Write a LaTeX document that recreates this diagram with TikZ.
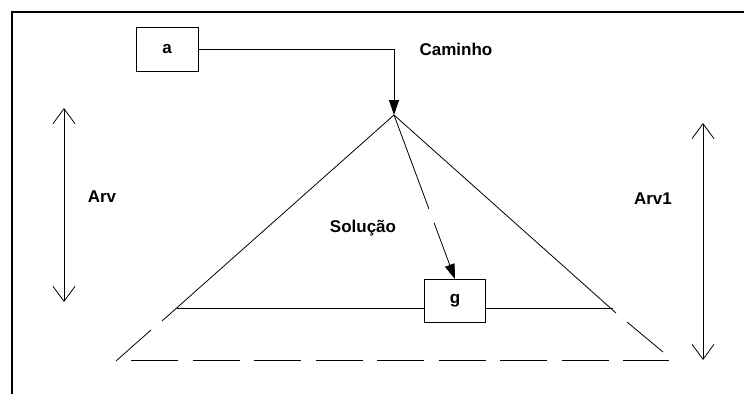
\documentclass[tikz,border=0pt]{standalone}
\usepackage{fontspec}
\setmainfont{Liberation Sans}
\usetikzlibrary{arrows.meta,positioning,calc}
\tikzset{box/.style={draw,fill=white,minimum width=62pt,minimum height=44pt,inner sep=0pt,
  font=\fontsize{17}{20}\selectfont\bfseries},
  lbl/.style={font=\fontsize{17}{20}\selectfont\bfseries},
  solid arrow/.style={-{Triangle[length=15pt,width=10pt]},line width=0.8pt},
  span/.style={{Straight Barb[length=15pt,width=22pt]}-{Straight Barb[length=15pt,width=22pt]},line width=0.8pt},
  longdash/.style={dash pattern=on 47pt off 14.5pt,line width=0.8pt}}

\begin{document}
\begin{tikzpicture}[x=1pt,y=-1pt,line width=0.8pt]
\useasboundingbox (0,0) rectangle (744,394);
\draw[line width=2pt] (12,394)--(12,12)--(744,12);
% corners of the tree
\coordinate (top) at (394,115);
\coordinate (bl) at (177,308);
\coordinate (br) at (613,308);
\coordinate (sl) at (162,321);
\coordinate (sl2) at (151,330);
\coordinate (dl) at (116,361);
\coordinate (sr) at (616,313);
\coordinate (sr2) at (627,322);
\coordinate (dr) at (663,352);
\node[box] (a) at (167,49){a};
\node[box,minimum width=61pt,minimum height=43pt] (g) at (455,301){g};
\draw (top)--(sl) (top)--(sr);
\draw (sl2)--(dl) (sr2)--(dr);
\draw (bl)--(bl -| g.west) (br -| g.east)--(br);
\draw[longdash] (131,360)--(669,360);
\draw[solid arrow] (a.east)-|(top);
\draw[solid arrow,dash pattern=on 100pt off 15pt on 70pt off 0pt] (top)--(g.north);
% heights
\coordinate (h1) at (64,108);
\coordinate (h2) at (64,302);
\coordinate (k1) at (703,123);
\coordinate (k2) at (703,360);
\draw[span] (h1)--(h2);
\draw[span] (k1)--(k2);
\node[lbl] (cam) at (456,49){Caminho};
\node[lbl] (arv) at (102,197){Arv};
\node[lbl] (arv1) at (653,199){Arv1};
\node[lbl] (sol) at (363,228){Solução};
\end{tikzpicture}
\end{document}
